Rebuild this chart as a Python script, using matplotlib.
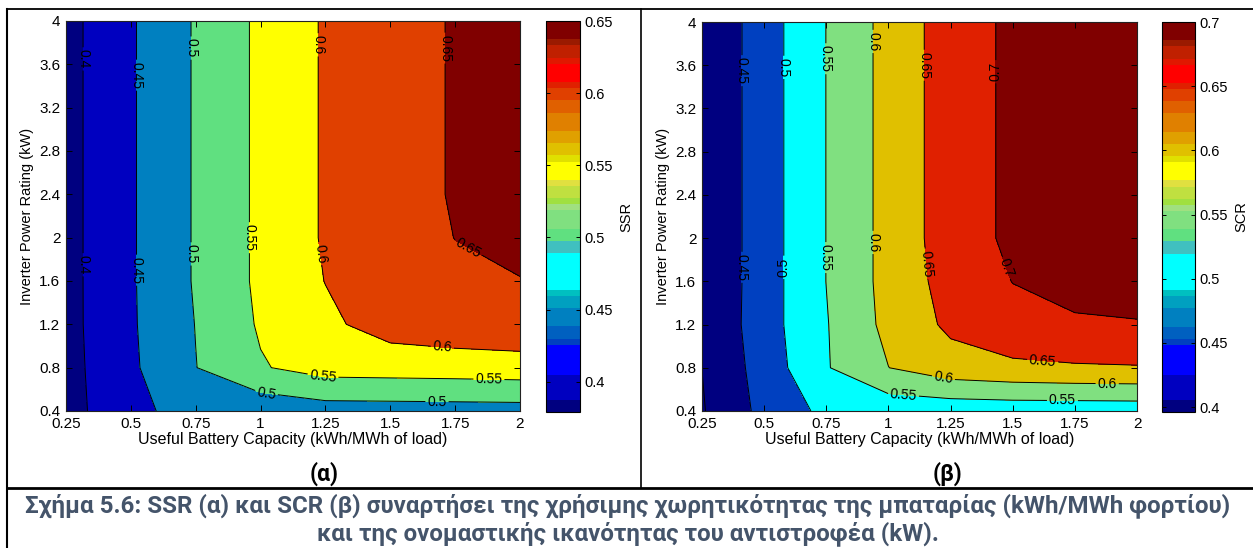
import numpy as np
import matplotlib
matplotlib.use('Agg')
import matplotlib.pyplot as plt
from matplotlib.colors import ListedColormap, Normalize
from matplotlib.cm import ScalarMappable
from matplotlib.lines import Line2D
from matplotlib.ticker import FormatStrFormatter

plt.rcParams['font.family'] = ['Liberation Sans', 'DejaVu Sans']

# grid of the parametric study
battery = [0.25, 0.5, 0.75, 1.0, 1.25, 1.5, 1.75, 2.0]          # kWh/MWh of load
inverter = [0.4, 0.8, 1.2, 1.6, 2.0, 2.4, 2.8, 3.2, 3.6, 4.0]   # kW

# SSR, one row per inverter rating (bottom to top)
ssr = [
    [0.379, 0.4423, 0.462, 0.466, 0.478, 0.479, 0.480, 0.481],
    [0.3826, 0.442, 0.499, 0.546, 0.570, 0.572, 0.574, 0.577],
    [0.384, 0.4443, 0.5011, 0.5554, 0.590, 0.621, 0.632, 0.638],
    [0.384, 0.4448, 0.5043, 0.5595, 0.601, 0.628, 0.642, 0.6493],
    [0.384, 0.4448, 0.5043, 0.5595, 0.6051, 0.631, 0.6505, 0.656],
    [0.384, 0.4448, 0.5043, 0.5595, 0.6051, 0.631, 0.6535, 0.658],
    [0.384, 0.4448, 0.5043, 0.5595, 0.6051, 0.631, 0.6535, 0.658],
    [0.384, 0.4448, 0.5043, 0.5595, 0.6051, 0.631, 0.6535, 0.658],
    [0.384, 0.4448, 0.5043, 0.5595, 0.6051, 0.631, 0.6535, 0.658],
    [0.384, 0.4448, 0.5043, 0.5595, 0.6051, 0.631, 0.6535, 0.658],
]

# SCR, same layout
scr = [
    [0.3962, 0.4641, 0.5118, 0.517, 0.518, 0.520, 0.520, 0.521],
    [0.4002, 0.4715, 0.5465, 0.5995, 0.630, 0.640, 0.645, 0.647],
    [0.402, 0.4781, 0.5474, 0.6132, 0.6597, 0.685, 0.693, 0.697],
    [0.402, 0.4766, 0.5505, 0.6163, 0.669, 0.7008, 0.7185, 0.721],
    [0.402, 0.4766, 0.5505, 0.6163, 0.6748, 0.7094, 0.724, 0.731],
    [0.402, 0.4766, 0.5505, 0.6163, 0.6748, 0.7094, 0.725, 0.733],
    [0.402, 0.4766, 0.5505, 0.6163, 0.6748, 0.7094, 0.725, 0.733],
    [0.402, 0.4766, 0.5505, 0.6163, 0.6748, 0.7094, 0.725, 0.733],
    [0.402, 0.4766, 0.5505, 0.6163, 0.6748, 0.7094, 0.725, 0.733],
    [0.402, 0.4766, 0.5505, 0.6163, 0.6748, 0.7094, 0.725, 0.733],
]

ssr_levels = [0.4, 0.45, 0.5, 0.55, 0.6, 0.65]
scr_levels = [0.4, 0.45, 0.5, 0.55, 0.6, 0.65, 0.7]

# where the contour labels sit
ssr_label_pos = [(0.315, 3.65), (0.315, 1.75), (0.52, 3.5), (0.52, 1.7),
                 (0.73, 3.75), (0.73, 1.85), (1.02, 0.52), (1.68, 0.48),
                 (0.96, 2.0), (1.24, 0.71), (1.88, 0.67),
                 (1.22, 3.78), (1.22, 1.85), (1.7, 0.97),
                 (1.71, 3.75), (1.8, 1.9)]
scr_label_pos = [(0.41, 3.55), (0.41, 1.73), (0.58, 3.58), (0.58, 1.73),
                 (0.75, 3.66), (0.75, 1.82), (1.06, 0.53), (1.7, 0.49),
                 (0.94, 3.82), (0.94, 1.96), (1.22, 0.69), (1.88, 0.65),
                 (1.15, 3.6), (1.15, 1.76), (1.62, 0.86),
                 (1.44, 3.54), (1.47, 1.72)]

# 64 step colour map as it appears on the colour bars (colour, steps)
bands = [('#000080', 2), ('#0000c0', 4), ('#0000ff', 5), ('#0040c0', 1), ('#0060c0', 2),
         ('#0080c0', 3), ('#00a0c0', 2), ('#00c0c0', 1), ('#00ffff', 6), ('#40c0c0', 2),
         ('#60e080', 2), ('#80e080', 3), ('#a0e080', 1), ('#a0e040', 1), ('#c0e040', 2),
         ('#e0e040', 1), ('#ffff00', 3), ('#e0e000', 1), ('#e0c000', 2), ('#e0a000', 2),
         ('#e08000', 3), ('#e06000', 2), ('#e04000', 2), ('#e02000', 1), ('#ff0000', 3),
         ('#e01800', 1), ('#c02000', 2), ('#9a1a00', 1), ('#800000', 3)]
cmap = ListedColormap([c for c, n in bands for _ in range(n)])

W, H = 1253, 548
fig = plt.figure(figsize=(W / 100, H / 100), dpi=100)


def box(x0, y0, x1, y1):
    return [x0 / W, 1 - y1 / H, (x1 - x0) / W, (y1 - y0) / H]


def panel(ax, cax, z, levels, name, label_pos):
    z = np.array(z)
    norm = Normalize(z.min(), levels[-1])
    bounds = [z.min() - 1] + levels + [z.max() + 1]
    fills = [cmap(norm(v)) for v in [z.min()] + levels]
    ax.contourf(battery, inverter, z, levels=bounds, colors=fills)
    cs = ax.contour(battery, inverter, z, levels=levels, colors='k', linewidths=0.7)
    ax.clabel(cs, fmt='%g', manual=label_pos, inline=True, fontsize=10, inline_spacing=2)

    ax.set_xlim(0.25, 2)
    ax.set_ylim(0.4, 4)
    ax.set_xticks(battery)
    ax.set_yticks(inverter)
    ax.xaxis.set_major_formatter(FormatStrFormatter('%g'))
    ax.yaxis.set_major_formatter(FormatStrFormatter('%g'))
    ax.tick_params(direction='in', top=True, right=True, length=4, width=0.7,
                   labelsize=11, pad=4)
    for s in ax.spines.values():
        s.set_linewidth(0.8)
        s.set_color('#222222')
    ax.set_xlabel('Useful Battery Capacity (kWh/MWh of load)', fontsize=11.5, labelpad=1)
    ax.set_ylabel('Inverter Power Rating (kW)', fontsize=10.5, labelpad=4)

    cb = fig.colorbar(ScalarMappable(norm=norm, cmap=cmap), cax=cax, ticks=levels, format='%g')
    cb.outline.set_linewidth(0.8)
    cax.tick_params(direction='in', left=True, right=True, length=3, width=0.7,
                    labelsize=10.5, pad=3)
    cb.set_label(name, fontsize=10.5, labelpad=5)


ax1 = fig.add_axes(box(66, 21, 520, 411))
cax1 = fig.add_axes(box(546, 21, 580, 412))
ax2 = fig.add_axes(box(702, 22, 1137, 411))
cax2 = fig.add_axes(box(1162, 22, 1195, 412))

panel(ax1, cax1, ssr, ssr_levels, 'SSR', ssr_label_pos)
panel(ax2, cax2, scr, scr_levels, 'SCR', scr_label_pos)

# table frame around the two panels and the caption
frame = [((7, 9), (W, 9), 1.3), ((7, 9), (7, H), 1.5), ((641, 9), (641, 488), 1.2),
         ((7, 488), (W, 488), 2.0)]
for (xa, ya), (xb, yb), lw in frame:
    fig.add_artist(Line2D([xa / W, xb / W], [1 - ya / H, 1 - yb / H],
                          transform=fig.transFigure, color='k', lw=lw))

greek = ['Roboto', 'DejaVu Sans']
fig.text(324 / W, 1 - 474 / H, '(α)', ha='center', va='center', fontsize=16.5,
         fontweight='bold', family=greek)
fig.text(947 / W, 1 - 474 / H, '(β)', ha='center', va='center', fontsize=16.5,
         fontweight='bold', family=greek)
fig.text(628 / W, 1 - 506 / H,
         'Σχήμα 5.6: SSR (α) και SCR (β) συναρτήσει της χρήσιμης χωρητικότητας '
         'της μπαταρίας (kWh/MWh φορτίου)',
         ha='center', va='center', fontsize=17.4, fontweight='bold', color='#44546a',
         family=greek)
fig.text(628 / W, 1 - 534 / H,
         'και της ονομαστικής ικανότητας του αντιστροφέα (kW).',
         ha='center', va='center', fontsize=17.4, fontweight='bold', color='#44546a',
         family=greek)

fig.savefig('out.png', dpi=100)
